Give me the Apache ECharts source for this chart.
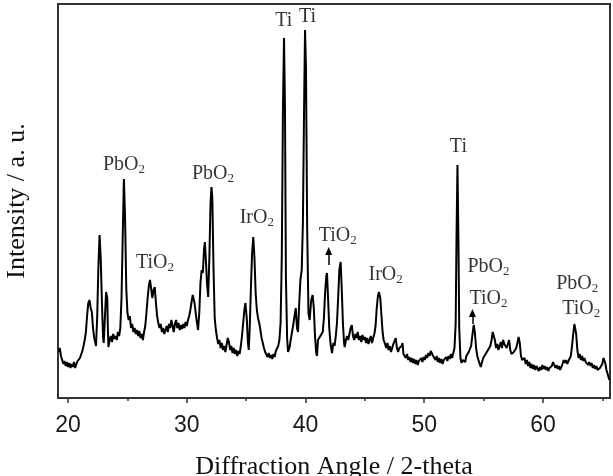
<!DOCTYPE html>
<html>
<head>
<meta charset="utf-8">
<script src="https://cdn.jsdelivr.net/npm/echarts@6/dist/echarts.min.js"></script>
<style>html,body{margin:0;padding:0;background:#fff;}#c{width:613px;height:476px;}</style>
</head>
<body>
<div id="c"></div>
<script>
// XRD pattern: [2-theta, intensity (a.u.)]
const xrdPattern = [
[19.2,46],[19.3,50],[19.4,42],[19.5,38],[19.6,34],[19.7,37],[19.8,32],[19.9,36],[20.0,31],[20.1,35],
[20.2,30],[20.3,34],[20.4,31],[20.5,36],[20.6,30],[20.7,34],[20.8,37],[20.9,35],[21.0,40],[21.1,42],
[21.2,47],[21.3,52],[21.4,58],[21.5,66],[21.6,82],[21.7,95],[21.8,98],[21.9,90],[22.0,86],[22.1,70],
[22.2,60],[22.3,55],[22.35,52],[22.45,80],[22.55,130],[22.65,163],[22.75,140],[22.85,95],[22.95,60],[23.0,55],
[23.1,80],[23.2,106],[23.3,100],[23.35,70],[23.4,51],[23.5,58],[23.6,62],[23.7,56],[23.8,64],[23.9,59],
[24.0,62],[24.1,58],[24.2,66],[24.3,62],[24.4,70],[24.5,100],[24.6,160],[24.7,219],[24.8,180],[24.9,110],
[25.0,85],[25.1,78],[25.2,82],[25.3,70],[25.4,74],[25.5,66],[25.6,70],[25.7,64],[25.8,68],[25.9,62],
[26.0,67],[26.1,60],[26.2,64],[26.3,58],[26.4,66],[26.5,72],[26.6,85],[26.7,100],[26.8,112],[26.9,118],
[27.0,120],[27.1,100],[27.2,108],[27.3,111],[27.4,95],[27.5,82],[27.6,75],[27.7,70],[27.8,74],[27.9,66],
[28.0,70],[28.1,64],[28.2,68],[28.3,72],[28.4,66],[28.5,74],[28.6,70],[28.7,78],[28.8,72],[28.9,66],
[29.0,74],[29.1,78],[29.2,70],[29.3,75],[29.4,68],[29.5,73],[29.6,69],[29.7,74],[29.8,70],[29.9,76],
[30.0,72],[30.1,78],[30.2,82],[30.3,88],[30.4,96],[30.5,103],[30.55,105],[30.65,95],[30.8,80],[30.95,68],
[31.05,85],[31.15,115],[31.25,128],[31.35,125],[31.45,148],[31.52,156],[31.6,140],[31.7,115],[31.8,101],[31.9,140],
[32.0,195],[32.08,211],[32.15,200],[32.25,130],[32.35,80],[32.45,68],[32.55,60],[32.65,54],[32.75,58],[32.85,50],
[32.95,55],[33.05,48],[33.15,52],[33.25,46],[33.35,53],[33.45,60],[33.55,56],[33.65,48],[33.75,52],[33.85,45],
[33.95,50],[34.05,44],[34.15,48],[34.25,42],[34.35,47],[34.45,44],[34.55,52],[34.65,62],[34.75,75],[34.85,88],
[34.94,95],[35.05,80],[35.15,55],[35.22,48],[35.3,70],[35.4,110],[35.5,145],[35.6,161],[35.7,140],[35.8,105],
[35.9,88],[36.0,80],[36.1,75],[36.2,68],[36.3,60],[36.4,55],[36.5,50],[36.6,46],[36.7,44],[36.8,41],
[36.9,45],[37.0,40],[37.1,43],[37.2,39],[37.3,44],[37.4,41],[37.5,47],[37.6,45],[37.7,52],[37.8,58],
[37.9,75],[38.0,140],[38.1,290],[38.19,360],[38.27,290],[38.35,120],[38.45,60],[38.53,46],[38.65,50],[38.75,58],
[38.85,65],[38.95,72],[39.05,80],[39.18,90],[39.28,70],[39.37,66],[39.47,95],[39.57,118],[39.68,128],[39.78,175],
[39.88,290],[39.96,368],[40.04,330],[40.14,170],[40.25,85],[40.35,78],[40.48,98],[40.6,103],[40.7,90],[40.8,62],
[40.9,45],[40.97,42],[41.05,58],[41.15,56],[41.25,62],[41.35,60],[41.45,66],[41.55,80],[41.65,105],[41.75,122],
[41.81,125],[41.9,100],[42.0,70],[42.1,55],[42.23,45],[42.35,55],[42.45,52],[42.55,62],[42.65,75],[42.75,100],
[42.85,128],[42.96,136],[43.05,110],[43.15,75],[43.25,55],[43.3,51],[43.4,58],[43.5,62],[43.6,58],[43.7,64],
[43.8,70],[43.9,73],[44.0,62],[44.1,58],[44.2,64],[44.3,60],[44.4,66],[44.5,58],[44.6,62],[44.7,56],
[44.8,63],[44.9,58],[45.0,61],[45.1,55],[45.2,60],[45.3,54],[45.4,58],[45.5,62],[45.6,55],[45.7,60],
[45.8,64],[45.9,72],[46.0,90],[46.1,102],[46.18,106],[46.3,100],[46.4,82],[46.5,65],[46.58,58],[46.7,54],
[46.8,50],[46.9,55],[47.0,48],[47.1,52],[47.2,46],[47.3,50],[47.4,54],[47.5,56],[47.6,60],[47.7,50],
[47.8,46],[47.9,50],[48.0,48],[48.1,52],[48.17,55],[48.25,44],[48.35,46],[48.45,40],[48.55,44],[48.65,38],
[48.75,41],[48.85,36],[48.95,40],[49.05,35],[49.15,39],[49.25,34],[49.35,38],[49.45,33],[49.55,37],[49.65,35],
[49.75,40],[49.85,36],[49.95,41],[50.05,38],[50.15,43],[50.25,40],[50.35,45],[50.45,42],[50.55,47],[50.65,48],
[50.75,42],[50.85,44],[50.95,38],[51.05,42],[51.15,36],[51.25,40],[51.35,35],[51.45,39],[51.55,34],[51.65,38],
[51.75,36],[51.85,41],[51.95,37],[52.05,42],[52.15,39],[52.25,44],[52.35,40],[52.45,45],[52.55,50],[52.65,75],
[52.72,160],[52.8,233],[52.88,160],[52.95,70],[53.05,40],[53.15,35],[53.25,38],[53.35,40],[53.45,36],[53.55,42],
[53.65,40],[53.75,46],[53.85,44],[53.95,52],[54.05,62],[54.17,73],[54.27,65],[54.37,50],[54.47,42],[54.57,38],
[54.67,34],[54.77,31],[54.87,36],[54.97,40],[55.07,38],[55.17,44],[55.27,42],[55.37,48],[55.47,46],[55.57,52],
[55.67,58],[55.77,66],[55.85,68],[55.95,58],[56.05,50],[56.15,54],[56.25,48],[56.35,52],[56.45,56],[56.55,50],
[56.65,58],[56.75,54],[56.85,56],[56.95,50],[57.05,54],[57.15,58],[57.25,48],[57.35,44],[57.45,42],[57.55,46],
[57.65,44],[57.75,50],[57.85,55],[57.95,61],[58.05,55],[58.15,42],[58.25,38],[58.35,36],[58.45,40],[58.55,34],
[58.65,38],[58.75,32],[58.85,36],[58.95,30],[59.05,34],[59.15,29],[59.25,33],[59.35,28],[59.45,32],[59.55,30],
[59.65,27],[59.75,31],[59.85,28],[59.95,33],[60.05,29],[60.15,32],[60.25,28],[60.35,31],[60.45,27],[60.55,30],
[60.65,28],[60.75,32],[60.85,36],[60.95,33],[61.05,30],[61.15,33],[61.25,29],[61.35,32],[61.45,28],[61.55,31],
[61.65,34],[61.75,38],[61.85,35],[61.95,38],[62.05,34],[62.15,37],[62.25,35],[62.35,42],[62.45,52],[62.55,64],
[62.65,74],[62.72,76],[62.8,64],[62.9,48],[63.0,40],[63.1,44],[63.2,38],[63.3,42],[63.4,37],[63.5,40],
[63.6,36],[63.7,38],[63.8,33],[63.9,36],[64.0,32],[64.1,35],[64.2,30],[64.3,33],[64.4,29],[64.5,32],
[64.6,28],[64.7,26],[64.8,30],[64.9,28],[65.0,34],[65.1,40],[65.16,41],[65.25,35],[65.35,28],[65.45,24],
[65.55,20],[65.62,18]
];

const tickLabels = [20, 30, 40, 50, 60];
const minorTicks = [25, 35, 45, 55, 65];

// peak annotations
const annoText = ['Ti', 'Ti', 'PbO2', 'PbO2', 'IrO2', 'TiO2', 'TiO2', 'IrO2', 'Ti', 'PbO2', 'TiO2', 'PbO2', 'TiO2'];
const annoX    = [38.17, 40.18, 24.71, 32.2, 35.9, 27.32, 42.71, 46.75, 52.88, 55.41, 55.41, 62.89, 63.23];
const annoY    = [377, 381, 233, 224, 180, 135, 162, 123, 251, 131, 99, 114, 89];

// arrows [x, yFrom, yTo]
const arrowX = [41.95, 54.06];
const arrowFrom = [133, 74];
const arrowTo = [147, 85];

const chart = echarts.init(document.getElementById('c'), null, {renderer: 'canvas'});
const serif = '"Liberation Serif", "DejaVu Serif", serif';
const sans = '"Liberation Sans", Arial, sans-serif';

chart.setOption({
  animation: false,
  backgroundColor: '#fff',
  grid: {left: 58, right: 3, top: 4, bottom: 78, show: true, outerBoundsMode: 'none', containLabel: false,
         borderColor: '#333', borderWidth: 2, backgroundColor: 'transparent'},
  xAxis: [{
    type: 'value', min: 19.15, max: 65.65,
    axisLine: {show: true, lineStyle: {color: '#333', width: 2}},
    axisTick: {show: true, length: 5, customValues: tickLabels, lineStyle: {color: '#333', width: 1.5}},
    axisLabel: {show: true, customValues: tickLabels, margin: 16, fontFamily: sans, fontSize: 23, color: '#1a1a1a'},
    splitLine: {show: false},
    name: 'Diffraction Angle / 2-theta', nameLocation: 'middle', nameGap: 56,
    nameTextStyle: {fontFamily: serif, fontSize: 26, color: '#111'}
  }, {
    type: 'value', min: 19.15, max: 65.65, position: 'bottom',
    axisLine: {show: false},
    axisTick: {show: true, length: 3, customValues: minorTicks, lineStyle: {color: '#333', width: 1.5}},
    axisLabel: {show: false}, splitLine: {show: false}
  }],
  yAxis: {
    type: 'value', min: 0, max: 394,
    axisLine: {show: false}, axisTick: {show: false}, axisLabel: {show: false}, splitLine: {show: false},
    name: 'Intensity / a. u.', nameLocation: 'middle', nameGap: 28,
    nameTextStyle: {fontFamily: serif, fontSize: 26, color: '#111'}
  },
  series: [{
    type: 'line', data: xrdPattern, showSymbol: false, symbol: 'none',
    lineStyle: {color: '#000', width: 2}, silent: true,
    markLine: {
      silent: true, symbol: ['none', 'triangle'], symbolSize: [7, 8],
      lineStyle: {color: '#000', width: 1.5, type: 'solid'}, label: {show: false},
      data: arrowX.map((x, i) => [{coord: [x, arrowFrom[i]]}, {coord: [x, arrowTo[i]]}])
    }
  }, {
    type: 'scatter', symbolSize: 0, silent: true,
    data: annoX.map((x, i) => ({value: [x, annoY[i]], name: annoText[i]})),
    label: {
      show: true, position: 'inside',
      formatter: p => p.name.replace(/O2$/, 'O{s|2}'),
      fontFamily: serif, fontSize: 20, color: '#000',
      rich: {s: {fontFamily: serif, fontSize: 13, color: '#000', padding: [9, 0, 0, 0]}}
    }
  }]
});
</script>
</body>
</html>
